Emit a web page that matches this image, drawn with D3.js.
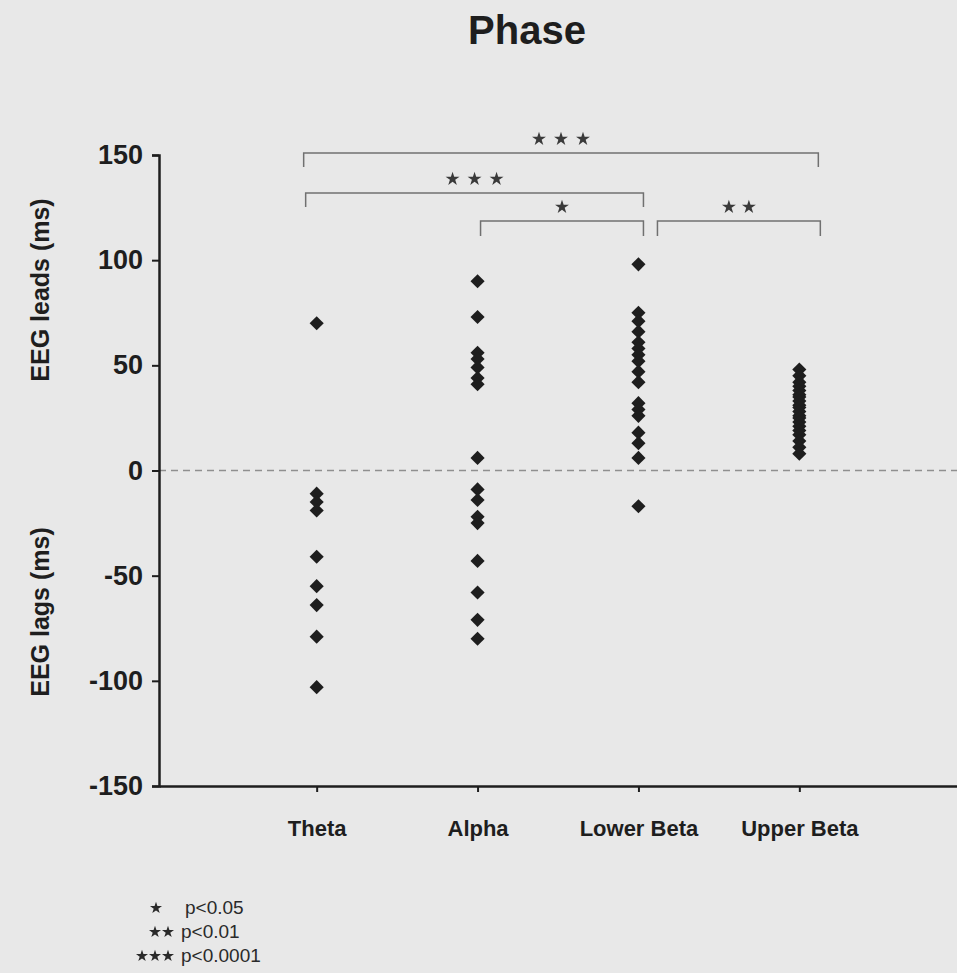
<!DOCTYPE html>
<html>
<head>
<meta charset="utf-8">
<script src="https://cdn.jsdelivr.net/npm/d3@7"></script>
<style>
  html, body { margin: 0; padding: 0; background: #e8e8e8; }
  svg { display: block; }
</style>
</head>
<body>
<script>
// ---- data ----
const categories = ["Theta", "Alpha", "Lower Beta", "Upper Beta"];
const thetaValues = [70, -11, -15, -19, -41, -55, -64, -79, -103];
const alphaValues = [90, 73, 56, 53, 49, 44, 41, 6, -9, -14, -22, -25, -43, -58, -71, -80];
const lowerBetaValues = [98, 75, 71, 66, 61, 58, 55, 52, 47, 42, 32, 29, 26, 18, 13, 6, -17];
const upperBetaValues = [48, 45, 42, 40, 38, 36, 35, 33, 31, 30, 28, 26, 25, 23, 21, 19, 17, 14, 11, 8];
const yTicks = [-150, -100, -50, 0, 50, 100, 150];
const comparisons = [
  ["Theta", "Upper Beta", "***"],
  ["Theta", "Lower Beta", "***"],
  ["Alpha", "Lower Beta", "*"],
  ["Lower Beta", "Upper Beta", "**"]
];
const legendLabels = [["*", "p<0.05"], ["**", "p<0.01"], ["***", "p<0.0001"]];

const series = [thetaValues, alphaValues, lowerBetaValues, upperBetaValues];

// ---- layout ----
const W = 957, H = 973;
const svg = d3.select("body").append("svg").attr("width", W).attr("height", H);
svg.append("rect").attr("width", W).attr("height", H).attr("fill", "#e8e8e8");

const axisX = 159, axisRight = 957;
const y = d3.scaleLinear().domain([-150, 150]).range([786, 155]);
const x = d3.scalePoint().domain(categories).range([axisX, axisRight]).padding(0.98);
const ink = "#1e1e1e";
const font = "Liberation Sans, Arial, sans-serif";

// title
svg.append("text").attr("x", 527).attr("y", 44).attr("text-anchor", "middle")
  .attr("font-family", font).attr("font-weight", "bold")
  .attr("font-size", 40).attr("fill", ink).text("Phase");

// zero line
svg.append("line").attr("x1", axisX).attr("x2", axisRight).attr("y1", y(0)).attr("y2", y(0))
  .attr("stroke", "#8f8f8f").attr("stroke-width", 1.3).attr("stroke-dasharray", "7,5");

// y axis
const yAxis = d3.axisLeft(y).tickValues(yTicks).tickSize(7).tickPadding(9).tickFormat(d => String(d));
const gy = svg.append("g").attr("transform", `translate(${axisX},0)`).call(yAxis);
gy.select(".domain").attr("stroke", ink).attr("stroke-width", 2.5);
gy.selectAll(".tick line").attr("stroke", ink).attr("stroke-width", 2);
gy.selectAll(".tick text").attr("font-family", font)
  .attr("font-weight", "bold").attr("font-size", 27).attr("fill", ink);

// x axis
const xAxis = d3.axisBottom(x).tickSize(6).tickPadding(28).tickSizeOuter(0);
const gx = svg.append("g").attr("transform", `translate(0,${y(-150)})`).call(xAxis);
gx.select(".domain").attr("stroke", ink).attr("stroke-width", 2.5);
gx.selectAll(".tick line").attr("stroke", ink).attr("stroke-width", 2);
gx.selectAll(".tick text").attr("font-family", font)
  .attr("font-weight", "bold").attr("font-size", 22).attr("fill", ink);

// y titles
const yt = (txt, cy) => svg.append("text")
  .attr("transform", `translate(49,${cy}) rotate(-90)`).attr("text-anchor", "middle")
  .attr("font-family", font).attr("font-weight", "bold")
  .attr("font-size", 25).attr("fill", ink).text(txt);
yt("EEG leads (ms)", 290);
yt("EEG lags (ms)", 612);

// points
const diamond = d3.symbol().type(d3.symbolSquare).size(100);
categories.forEach((c, i) => {
  svg.append("g").selectAll("path").data(series[i]).join("path")
    .attr("d", diamond)
    .attr("transform", d => `translate(${x(c)},${y(d)}) rotate(45)`)
    .attr("fill", ink);
});

// significance brackets
const bracketY = [153, 193, 221, 221];
const bracketDrop = [14, 14, 15, 15];
const bracketDx = [[-13, 19], [-11, 5], [3, 5], [19, 21]];
const star = d3.symbol().type(d3.symbolStar).size(60);
comparisons.forEach((cmp, i) => {
  const x0 = x(cmp[0]) + bracketDx[i][0], x1 = x(cmp[1]) + bracketDx[i][1];
  const by = bracketY[i], drop = bracketDrop[i];
  svg.append("path")
    .attr("d", `M${x0},${by + drop}V${by}H${x1}V${by + drop}`)
    .attr("fill", "none").attr("stroke", "#707070").attr("stroke-width", 1.5);
  const n = cmp[2].length;
  const cx = (x0 + x1) / 2;
  const gap = n === 3 ? 22 : 20;
  d3.range(n).forEach(k => {
    svg.append("path").attr("d", star)
      .attr("transform", `translate(${cx + (k - (n - 1) / 2) * gap},${by - 14})`)
      .attr("fill", "#3a3a3a");
  });
});

// legend
const legStar = d3.symbol().type(d3.symbolStar).size(45);
legendLabels.forEach((lab, i) => {
  const ly = 908 + i * 24;
  const n = lab[0].length;
  d3.range(n).forEach(k => {
    svg.append("path").attr("d", legStar)
      .attr("transform", `translate(${168 - (n - 1 - k) * 13 - (n === 1 ? 12 : 0)},${ly})`)
      .attr("fill", "#2a2a2a");
  });
  svg.append("text").attr("x", n === 1 ? 185 : 181).attr("y", ly + 6)
    .attr("font-family", font).attr("font-size", 19)
    .attr("fill", "#2a2a2a").text(lab[1]);
});
</script>
</body>
</html>
